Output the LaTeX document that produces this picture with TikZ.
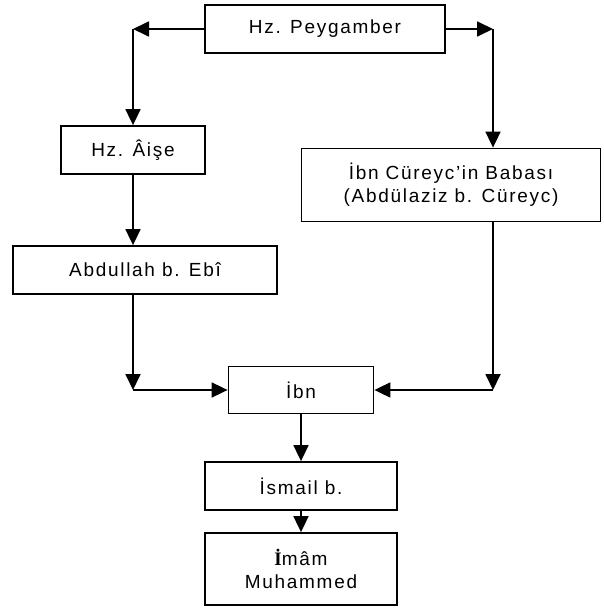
\documentclass[tikz,border=0pt]{standalone}
\usepackage{fontspec}
\setmainfont{Liberation Sans}[LetterSpace=9]
\newfontfamily\serifbold{Liberation Serif}
\usetikzlibrary{arrows.meta,positioning,calc}

\begin{document}
\begin{tikzpicture}
[x=1pt,y=-1pt,
box/.style ={rectangle, draw, line width=1.8pt, fill=white, text centered, inner sep=0pt, font=\fontsize{19}{23}\selectfont},
line_arrow/.style ={draw, line width=1.8pt, -{Triangle[length=16pt,width=15pt]}, shorten >=0pt, shorten <=0pt}
]
\useasboundingbox (0,0) rectangle (603,610);

%%%Knoten%%%
\node [box, minimum width=240pt, minimum height=48pt] (peygamber) at (325,29) {Hz. Peygamber};
\node [box, minimum width=144pt, minimum height=48pt] (aise) at (133,150) {Hz. Âişe};
\node [box, minimum width=264pt, minimum height=48pt] (abdullah) at (145,270) {Abdullah b. Ebî};
\node [box, minimum width=299pt, minimum height=73pt, align=center] (babasi) at (451,185) {İbn Cüreyc’in Babası\\(Abdülaziz b. Cüreyc)};
\node [box, minimum width=145pt, minimum height=47pt] (ibn) at (301,390) {İbn};
\node [box, minimum width=192pt, minimum height=48pt] (ismail) at (301,486) {İsmail b.};
\node [box, minimum width=192pt, minimum height=72pt, align=center] (imam) at (301,569) {{\serifbold\bfseries İ}mâm\\Muhammed};

%%%Ecken%%%
\coordinate (ecke_ol) at (peygamber.west -| aise.north);
\coordinate (ecke_or) at (493,29);
\coordinate (ecke_ul) at (aise.north |- ibn.west);
\coordinate (ecke_ur) at (ecke_or |- ibn.east);

%%Pfeile%%%
\draw[line_arrow] (peygamber.west) -- (ecke_ol);
\draw[line_arrow] (ecke_ol) -- (aise.north);
\draw[line_arrow] (peygamber.east) -- (ecke_or);
\draw[line_arrow] (ecke_or) -- (ecke_or |- babasi.north);
\draw[line_arrow] (aise.south) -- (aise.south |- abdullah.north);
\draw[line_arrow] (aise.south |- abdullah.south) -- (ecke_ul);
\draw[line_arrow] (ecke_ul) -- (ibn.west);
\draw[line_arrow] (ecke_or |- babasi.south) -- (ecke_ur);
\draw[line_arrow] (ecke_ur) -- (ibn.east);
\draw[line_arrow] (ibn.south) -- (ismail.north);
\draw[line_arrow] (ismail.south) -- (imam.north);

\end{tikzpicture}
\end{document}
